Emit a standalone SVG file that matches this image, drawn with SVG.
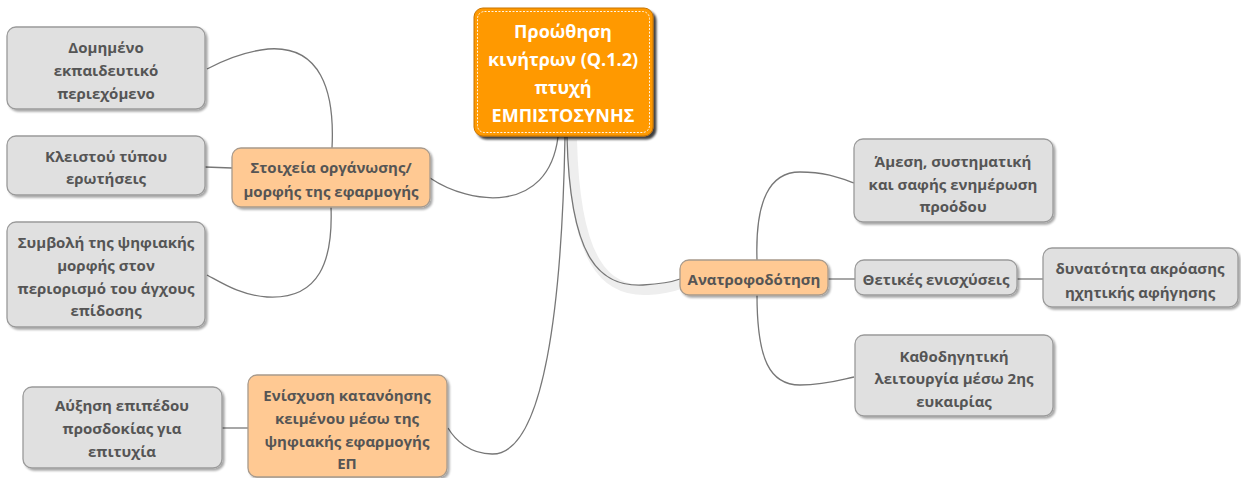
<svg xmlns="http://www.w3.org/2000/svg" width="1241" height="478" viewBox="0 0 1241 478">
<defs>
<filter id="sh" x="-10%" y="-10%" width="130%" height="140%"><feDropShadow dx="2" dy="2" stdDeviation="1.2" flood-color="#000" flood-opacity="0.35"/></filter>
<filter id="shr" x="-10%" y="-10%" width="130%" height="140%"><feDropShadow dx="3" dy="3" stdDeviation="1" flood-color="#000" flood-opacity="0.75"/></filter>
<style>
.g{fill:#e0e0e0;stroke:#9a9a9a;stroke-width:1.3;filter:url(#sh)}
.o{fill:#ffc993;stroke:#a89a8c;stroke-width:1.3;filter:url(#sh)}
.t{font-family:"Open Sans","Noto Sans","DejaVu Sans",sans-serif;font-size:15px;font-weight:bold;fill:#555;text-anchor:middle;dominant-baseline:central}
.rt{font-family:"Open Sans","Noto Sans","DejaVu Sans",sans-serif;font-size:18px;font-weight:bold;fill:#fff;text-anchor:middle;dominant-baseline:central}
.c{fill:none;stroke:#777;stroke-width:1.3}
</style>
</defs>
<g id="connectors">
<path d="M572,140 C575,262 605,292 648,290 C663,289 672,287 680,284" fill="none" stroke="#eeeeee" stroke-width="10"/>
<path class="c" d="M567,137 C570,260 600,287 643,285 C660,284 672,282 680,279"/>
<path class="c" d="M558,137 C548,215 470,205 430,178"/>
<path class="c" d="M565,137 C562,300 545,455 492,454 C470,454 455,440 448,428"/>
<path class="c" d="M332,148 C335,90 320,45 268,49 C240,52 220,62 207,69"/>
<path class="c" d="M232,168 L205,167"/>
<path class="c" d="M331,207 C333,260 320,300 267,297 C240,295 222,283 207,275"/>
<path class="c" d="M248,428 L222,428"/>
<path class="c" d="M757,260 C755,200 770,172 800,172 C825,172 840,178 854,183"/>
<path class="c" d="M828,279 L855,279"/>
<path class="c" d="M757,295 C757,360 770,385 800,385 C825,385 840,380 854,377"/>
<path class="c" d="M1017,279 L1043,279"/>
</g>
<g id="root">
<rect x="474" y="8" width="179" height="128" rx="9" fill="#ff9900" stroke="#c77400" stroke-width="1" filter="url(#shr)"/>
<rect x="477.5" y="11.5" width="172" height="121" rx="7" fill="none" stroke="#fff" stroke-width="1" stroke-dasharray="2,1.5" opacity="0.9"/>
<text class="rt" x="563" y="31">Προώθηση</text>
<text class="rt" x="563" y="59">κινήτρων (Q.1.2)</text>
<text class="rt" x="563" y="87">πτυχή</text>
<text class="rt" x="563" y="115">ΕΜΠΙΣΤΟΣΥΝΗΣ</text>
</g>
<g id="n-stoixeia">
<rect class="o" x="232" y="148" width="198" height="59" rx="9"/>
<text class="t" x="331" y="167">Στοιχεία οργάνωσης/</text>
<text class="t" x="331" y="191">μορφής της εφαρμογής</text>
</g>
<g id="n-domimeno">
<rect class="g" x="7" y="27" width="198" height="82" rx="9"/>
<text class="t" x="106" y="47">Δομημένο</text>
<text class="t" x="106" y="70">εκπαιδευτικό</text>
<text class="t" x="106" y="93">περιεχόμενο</text>
</g>
<g id="n-kleistou">
<rect class="g" x="7" y="136" width="198" height="59" rx="9"/>
<text class="t" x="106" y="156">Κλειστού τύπου</text>
<text class="t" x="106" y="178">ερωτήσεις</text>
</g>
<g id="n-symvoli">
<rect class="g" x="7" y="222" width="198" height="105" rx="9"/>
<text class="t" x="106" y="242">Συμβολή της ψηφιακής</text>
<text class="t" x="106" y="265">μορφής στον</text>
<text class="t" x="106" y="288">περιορισμό του άγχους</text>
<text class="t" x="106" y="310">επίδοσης</text>
</g>
<g id="n-enisxysi">
<rect class="o" x="248" y="375" width="199" height="102" rx="9"/>
<text class="t" x="347" y="395">Ενίσχυση κατανόησης</text>
<text class="t" x="347" y="418">κειμένου μέσω της</text>
<text class="t" x="347" y="441">ψηφιακής εφαρμογής</text>
<text class="t" x="347" y="463">ΕΠ</text>
</g>
<g id="n-afxisi">
<rect class="g" x="23" y="387" width="199" height="81" rx="9"/>
<text class="t" x="122" y="405">Αύξηση επιπέδου</text>
<text class="t" x="122" y="428">προσδοκίας για</text>
<text class="t" x="122" y="451">επιτυχία</text>
</g>
<g id="n-anatrofodotisi">
<rect class="o" x="680" y="260" width="148" height="35" rx="9"/>
<text class="t" x="754" y="279">Ανατροφοδότηση</text>
</g>
<g id="n-amesi">
<rect class="g" x="854" y="139" width="199" height="83" rx="9"/>
<text class="t" x="953" y="161">Άμεση, συστηματική</text>
<text class="t" x="953" y="184">και σαφής ενημέρωση</text>
<text class="t" x="953" y="206">προόδου</text>
</g>
<g id="n-thetikes">
<rect class="g" x="855" y="260" width="162" height="35" rx="9"/>
<text class="t" x="936" y="279">Θετικές ενισχύσεις</text>
</g>
<g id="n-dynatotita">
<rect class="g" x="1043" y="248" width="195" height="59" rx="9"/>
<text class="t" x="1140" y="268">δυνατότητα ακρόασης</text>
<text class="t" x="1140" y="292">ηχητικής αφήγησης</text>
</g>
<g id="n-kathodigitiki">
<rect class="g" x="855" y="335" width="198" height="81" rx="9"/>
<text class="t" x="954" y="356">Καθοδηγητική</text>
<text class="t" x="954" y="378">λειτουργία μέσω 2ης</text>
<text class="t" x="954" y="401">ευκαιρίας</text>
</g>
</svg>
